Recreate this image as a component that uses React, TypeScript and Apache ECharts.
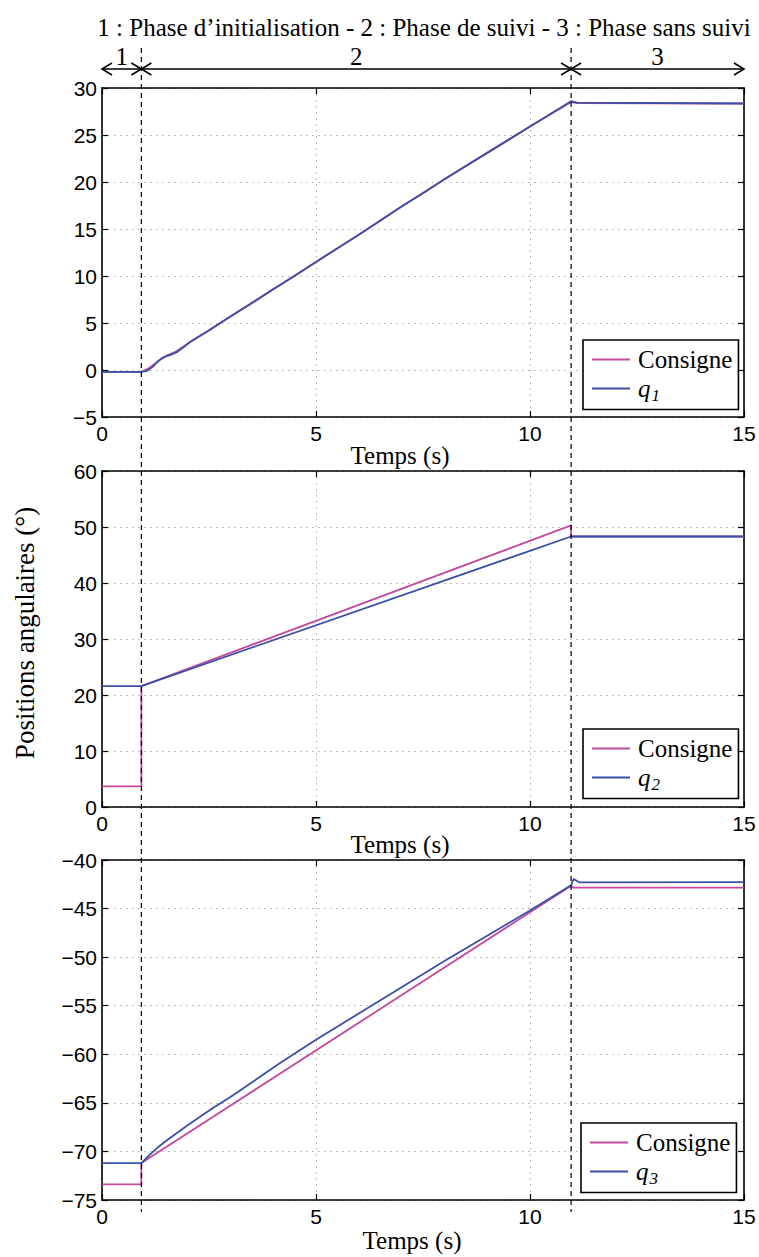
import React, { useEffect, useRef } from "react";
import * as echarts from "echarts";

// Phase boundaries (s)
const T_START = 0.92;
const T_END = 10.96;
const T_MAX = 15;

// Plot 1 — q1
const c1T = [0, 0.92, 1.1, 1.3, 1.5, 1.7, 2.0, 3, 4, 5, 6, 7, 8, 9, 10, 10.96, 11.1, 15];
const c1V = [-0.2, -0.2, 0.2, 0.9, 1.5, 1.9, 2.8, 5.7, 8.6, 11.5, 14.4, 17.4, 20.3, 23.1, 25.9, 28.5, 28.4, 28.35];
const q1T = [0, 0.92, 1.05, 1.2, 1.35, 1.45, 1.6, 1.75, 1.9, 2.06, 2.5, 3, 3.5, 4, 4.5, 5, 6, 7, 7.5, 8, 9, 10, 10.96, 11.1, 15];
const q1V = [-0.2, -0.2, -0.1, 0.4, 1.1, 1.4, 1.6, 1.9, 2.4, 3.0, 4.2, 5.7, 7.1, 8.6, 10.0, 11.5, 14.4, 17.4, 18.8, 20.3, 23.1, 25.9, 28.6, 28.45, 28.35];

// Plot 2 — q2
const c2T = [0, 0.92, 0.92, 10.96, 10.96, 15];
const c2V = [3.7, 3.7, 21.6, 50.3, 48.3, 48.3];
const q2T = [0, 0.92, 10.96, 15];
const q2V = [21.6, 21.6, 48.3, 48.3];

// Plot 3 — q3
const c3T = [0, 0.92, 0.92, 10.96, 11.0, 15];
const c3V = [-73.4, -73.4, -71.2, -42.65, -42.85, -42.85];
const q3T = [0, 0.92, 1.1, 1.3, 1.5, 1.75, 2.0, 2.3, 2.6, 3.0, 3.5, 4.16, 5, 6, 7, 8, 9, 10, 10.96, 11.02, 11.15, 15];
const q3V = [-71.2, -71.2, -70.4, -69.6, -68.9, -68.1, -67.3, -66.4, -65.5, -64.4, -62.9, -60.9, -58.5, -55.8, -53.1, -50.4, -47.8, -45.2, -42.6, -41.95, -42.3, -42.27];

const yRanges = [
  { min: -5, max: 30, interval: 5 },
  { min: 0, max: 60, interval: 10 },
  { min: -75, max: -40, interval: 5 },
];
const xTicks = { min: 0, max: 15, interval: 5 };

const HEADER = "1 : Phase d\u2019initialisation - 2 : Phase de suivi - 3 : Phase sans suivi";
const PHASE_LABELS = ["1", "2", "3"];
const X_NAME = "Temps (s)";
const Y_NAME = "Positions angulaires (\u00b0)";
const LEGEND_NAMES = [["Consigne", "q1"], ["Consigne", "q2"], ["Consigne", "q3"]];

const C_COLOR = "#C2499C";
const Q_COLOR = "#3A4FA6";
const SERIF = "Liberation Serif";
const SANS = "Liberation Sans";

const zip = (t: number[], v: number[]) => t.map((x, i) => [x, v[i]]);

const grids = [
  { left: 102, width: 642, top: 88, height: 329 },
  { left: 102, width: 642, top: 471, height: 336 },
  { left: 102, width: 642, top: 860, height: 340 },
];
const legendPos = [
  { left: 583, top: 340 },
  { left: 583, top: 729 },
  { left: 581, top: 1123 },
];
const xNamePos = [
  { x: 400, y: 455 },
  { x: 400, y: 844 },
  { x: 412, y: 1240 },
];

const minus = (v: number) => String(v).replace("-", "\u2212");

export default function App() {
  const ref = useRef<HTMLDivElement>(null);
  useEffect(() => {
    if (!ref.current) return;
    const chart = echarts.init(ref.current, undefined, { renderer: "svg" });
    const axisLine = { show: true, onZero: false, lineStyle: { color: "#000", width: 1.6 } };
    const axisTick = { show: true, inside: true, length: 6, lineStyle: { color: "#000", width: 1.2 } };
    const splitLine = { show: true, lineStyle: { color: "#aaa", type: [1.5, 4.5] as any, width: 1 } };
    const labelStyle = { fontFamily: SANS, fontSize: 21, color: "#000" };

    const xAxis: any[] = [];
    const yAxis: any[] = [];
    grids.forEach((_, i) => {
      xAxis.push({
        type: "value", gridIndex: i, ...xTicks, position: "bottom",
        axisLine, axisTick, splitLine,
        axisLabel: { ...labelStyle, margin: 6, formatter: minus },
      });
      yAxis.push({
        type: "value", gridIndex: i, ...yRanges[i], position: "left",
        axisLine, axisTick, splitLine,
        axisLabel: { ...labelStyle, margin: 5, formatter: minus },
      });
    });
    grids.forEach((_, i) => {
      xAxis.push({
        type: "value", gridIndex: i, ...xTicks, position: "top",
        axisLine, axisTick, splitLine: { show: false }, axisLabel: { show: false },
      });
      yAxis.push({
        type: "value", gridIndex: i, ...yRanges[i], position: "right",
        axisLine, axisTick, splitLine: { show: false }, axisLabel: { show: false },
      });
    });

    const cData = [zip(c1T, c1V), zip(c2T, c2V), zip(c3T, c3V)];
    const qData = [zip(q1T, q1V), zip(q2T, q2V), zip(q3T, q3V)];
    const series: any[] = [];
    grids.forEach((_, i) => {
      series.push({
        name: "Consigne", type: "line", xAxisIndex: i, yAxisIndex: i,
        data: cData[i], symbol: "none", color: C_COLOR,
        lineStyle: { color: C_COLOR, width: 1.8 }, z: 3,
      });
      series.push({
        name: LEGEND_NAMES[i][1], type: "line", xAxisIndex: i, yAxisIndex: i,
        data: qData[i], symbol: "none", color: Q_COLOR,
        lineStyle: { color: Q_COLOR, width: 1.8 }, z: 4,
      });
    });

    const legend = grids.map((_, i) => ({
      data: LEGEND_NAMES[i].map((n) => ({ name: n, icon: "rect" })),
      left: legendPos[i].left, top: legendPos[i].top,
      orient: "vertical", selectedMode: false,
      padding: [7, 6, 6, 9], itemGap: 4, itemWidth: 38, itemHeight: 2,
      borderColor: "#000", borderWidth: 1.6, backgroundColor: "#fff",
      formatter: (name: string) =>
        name.startsWith("q") ? `{q|q}{s|${name.slice(1)}}` : name,
      textStyle: {
        fontFamily: SERIF, fontSize: 25, color: "#000", padding: [0, 0, 0, 3],
        rich: {
          q: { fontFamily: SERIF, fontSize: 25, fontStyle: "italic", color: "#000", lineHeight: 30 },
          s: { fontFamily: SERIF, fontSize: 17, fontStyle: "italic", color: "#000", verticalAlign: "bottom", lineHeight: 30, padding: [0, 0, 0, 1] },
        },
      },
    }));

    chart.setOption({
      animation: false,
      backgroundColor: "#fff",
      grid: grids.map((g) => ({ ...g, containLabel: false })),
      xAxis, yAxis, series, legend,
    });

    const px = (t: number) => chart.convertToPixel({ xAxisIndex: 0 }, t) as number;
    const x0 = px(0), x1 = px(T_START), x2 = px(T_END), x3 = px(T_MAX);
    const ay = 69;
    const head = 10, hw = 6;
    const chevR = (x: number) => ({ type: "polyline", shape: { points: [[x - head, ay - hw], [x, ay], [x - head, ay + hw]] }, style: { stroke: "#000", lineWidth: 1.6, fill: "none" } });
    const chevL = (x: number) => ({ type: "polyline", shape: { points: [[x + head, ay - hw], [x, ay], [x + head, ay + hw]] }, style: { stroke: "#000", lineWidth: 1.6, fill: "none" } });
    const dash = (x: number) => ({ type: "line", shape: { x1: x, y1: 48, x2: x, y2: 1212 }, style: { stroke: "#000", lineWidth: 1.2, lineDash: [5, 4] }, z: 100 });
    const serifText = (text: string, x: number, y: number, size: number, extra: any = {}) => ({
      type: "text", x, y, z: 100, ...extra,
      style: { text, fontFamily: SERIF, fontSize: size, fill: "#000", align: "center", verticalAlign: "middle" },
    });

    const graphic: any[] = [
      serifText(HEADER, 424, 27, 25),
      serifText(PHASE_LABELS[0], (x0 + x1) / 2, 56, 25),
      serifText(PHASE_LABELS[1], (x1 + x2) / 2, 56, 25),
      serifText(PHASE_LABELS[2], (x2 + x3) / 2, 56, 25),
      { type: "line", shape: { x1: x0, y1: ay, x2: x3, y2: ay }, style: { stroke: "#000", lineWidth: 1.6 } },
      chevL(x0), chevR(x1), chevL(x1), chevR(x2), chevL(x2), chevR(x3),
      dash(x1), dash(x2),
      ...xNamePos.map((p) => serifText(X_NAME, p.x, p.y, 25)),
      serifText(Y_NAME, 25, 633, 27, { rotation: Math.PI / 2 }),
    ];
    chart.setOption({ graphic });

    return () => chart.dispose();
  }, []);

  return (
    <div
      ref={ref}
      style={{ position: "absolute", left: 0, top: 0, width: 759, height: 1257, background: "#fff" }}
    />
  );
}
